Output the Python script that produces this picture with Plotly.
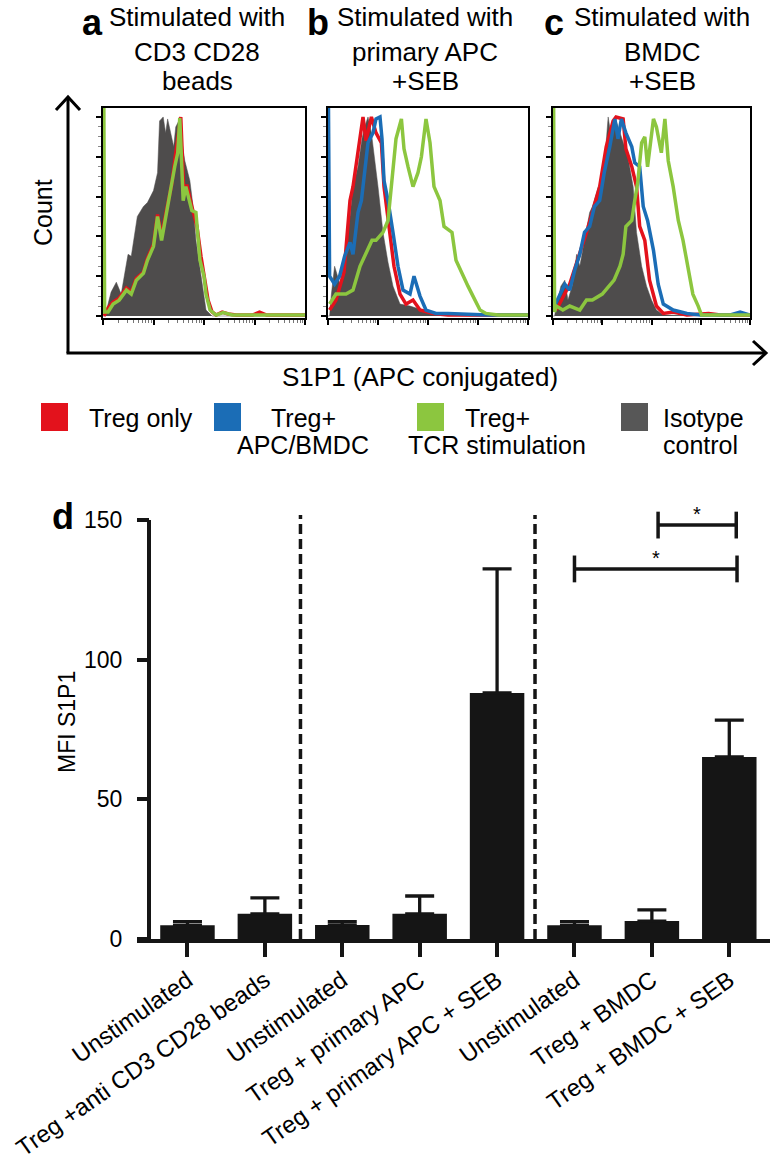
import math
import plotly.graph_objects as go

W, H = 774, 1162
FONT = "Liberation Sans, Arial, sans-serif"

RED = "#e3121c"
BLUE = "#1b6db6"
GREEN = "#8cc63f"
GREY = "#575757"
ISO_FILL = "#4e4c4c"

# ---- flow histograms: x = position on S1P1 axis (0-100), y = % of modal count
a_iso_x = [0, 1, 4, 6.6, 9, 12.4, 14, 17, 20, 22, 25, 27, 28, 29.8, 31, 32, 35, 36, 37.5, 39, 40.5, 43, 44.6, 46, 49, 51, 54, 100]
a_iso_y = [0, 0, 12, 17, 11, 31, 30, 50, 55, 57, 63, 72, 98, 100, 92, 99, 85, 95, 98, 88, 78, 68, 55, 38, 16, 3, 0, 0]
a_treg_x = [0.5, 2.5, 5, 8, 11.6, 14, 16.5, 20, 22, 25, 27, 29, 31.4, 34, 35.5, 37, 38.5, 40, 41.5, 44, 46.5, 48.5, 50.5, 52, 54, 56, 59, 62, 66, 74, 77.5, 81, 100]
a_treg_y = [0, 4, 7, 9, 14, 12, 19, 22, 29, 36, 51, 40, 53, 66, 78, 90, 100, 62, 66, 55, 45, 30, 18, 8, 2, 0.5, 2, 1, 0.5, 0.5, 2, 0.5, 0.5]
a_tcr_x = [0.4, 0.8, 2.5, 5, 8, 11.6, 14, 16.5, 20, 22, 25, 27, 29, 31.4, 34, 35.5, 37, 38, 39.7, 41, 44, 46, 48, 50, 51, 53, 56, 59.5, 64, 100]
a_tcr_y = [110, 2, 2, 6, 8, 13, 11, 18, 21.5, 28, 35, 50, 38, 52, 65, 75, 82, 99.5, 58, 65, 53, 52, 28, 20, 11, 3, 0.5, 1.7, 0.5, 0.5]

b_iso_x = [0, 0.8, 1.7, 3.3, 6, 8.3, 11, 12.5, 15, 17, 18.3, 20, 21.7, 23, 25, 27.5, 30, 32.5, 36, 41, 47.5, 52.5, 61, 70, 100]
b_iso_y = [0, 0, 11, 25, 16, 28, 50, 65, 75, 89, 95, 100, 92, 82, 65, 42, 27, 15, 6, 5, 3, 1.3, 0.5, 0, 0]
b_treg_x = [0.8, 4, 8, 11, 12.5, 15, 17.5, 19, 21.7, 24, 26.7, 28, 31, 33, 36, 39, 42.5, 46, 52.5, 60, 70, 100]
b_treg_y = [3, 8, 22, 58, 65, 83, 100, 88, 100, 92, 87, 65, 42, 25, 11, 6, 8, 3, 1.3, 0.5, 0.5, 0.5]
b_apc_x = [0.2, 0.8, 3.3, 5.8, 8.3, 11, 12.5, 15, 16.7, 18.3, 20, 22.5, 24, 26, 27, 28, 30, 32.5, 35, 37.5, 41, 43, 46, 49, 54, 60, 80, 100]
b_apc_y = [110, 20, 16, 20, 30, 37, 31, 52, 58, 72, 87, 92, 99, 100, 89, 68, 58, 42, 25, 13, 11, 20, 10, 3, 1.3, 1.3, 0.5, 0.5]
b_tcr_x = [0.8, 4, 9, 12.5, 16, 19, 22, 24, 27.5, 30, 31.7, 34, 36.7, 38, 40, 42.5, 45, 46.7, 49, 51, 53, 56, 58, 62, 64, 67.5, 70, 72.5, 76, 79, 85, 100]
b_tcr_y = [6, 11, 11, 13, 25, 32, 38, 38, 42, 48, 65, 89, 99, 84, 75, 65, 72, 80, 99, 87, 65, 58, 45, 42, 28, 20, 15, 10, 3, 1.3, 0.5, 0.5]

c_iso_x = [0, 0.8, 1.7, 4, 6, 7.6, 10, 12, 13.6, 16, 18.6, 20, 23, 24.6, 26, 28, 29.7, 31.4, 34, 35.6, 38, 40.7, 42.4, 45, 47.5, 50, 52.5, 56, 100]
c_iso_y = [0, 0, 5, 15, 18, 8, 16, 31, 25, 38, 52, 55, 65, 62, 75, 100, 89, 100, 92, 87, 80, 65, 42, 25, 15, 8, 3, 0.5, 0]
c_treg_x = [1.7, 8.5, 17, 23.7, 27, 30.5, 32, 35.6, 37, 40, 42.4, 44, 46.6, 49, 52.5, 56, 61, 68, 79, 85, 100]
c_treg_y = [3, 16, 42, 65, 85, 98, 100, 99, 84, 75, 65, 45, 38, 18, 5, 1.3, 2, 0.5, 1.3, 0.5, 0.5]
c_bmdc_x = [0.8, 3.4, 6, 8.5, 11, 13.6, 16, 18.6, 21, 23.7, 26, 28.8, 31.4, 33, 34.7, 37, 40, 41.5, 44, 45.8, 48, 51, 53.4, 56, 61, 68, 75, 90, 95, 100]
c_bmdc_y = [5, 11, 16, 13, 23, 31, 42, 45, 55, 58, 72, 85, 99, 89, 99, 92, 85, 77, 75, 55, 48, 33, 16, 6, 3, 1.3, 0.5, 0.5, 2, 0.5]
c_tcr_x = [0.3, 0.8, 1.7, 5, 8.5, 13.6, 17, 20, 25, 29, 31, 34, 35.6, 37, 40, 41.5, 43, 45, 46.6, 48, 51, 52.5, 55, 56.8, 58.5, 61, 63.6, 66, 68.6, 71, 73.7, 75.4, 100]
c_tcr_y = [110, 2, 5, 3, 5, 3, 8, 8, 11, 16, 18, 25, 31, 45, 48, 58, 67, 87, 90, 75, 99, 95, 82, 99, 78, 65, 48, 38, 25, 11, 5, 0.5, 0.5]

panel_titles = [["Stimulated with", "CD3 CD28", "beads"],
                ["Stimulated with", "primary APC", "+SEB"],
                ["Stimulated with", "BMDC", "+SEB"]]
panel_letters = ["a", "b", "c"]

legend_lines = [["Treg only"], ["Treg+", "APC/BMDC"], ["Treg+", "TCR stimulation"], ["Isotype", "control"]]
legend_colors = [RED, BLUE, GREEN, GREY]

# ---- bar chart (d)
bar_labels = ["Unstimulated", "Treg +anti CD3 CD28 beads", "Unstimulated", "Treg + primary APC",
              "Treg + primary APC + SEB", "Unstimulated", "Treg + BMDC", "Treg + BMDC + SEB"]
bar_mfi = [4.9, 9.0, 5.0, 9.0, 88.1, 4.9, 6.4, 65.2]
bar_sd = [1.3, 5.7, 1.2, 6.4, 44.4, 1.3, 4.0, 13.2]
sig_brackets = [(6.08, 7.09, 148.2), (5.0, 7.1, 132.5)]
sig_marks = ["*", "*"]
group_dividers = [1.46, 4.49]


def px(x):
    return x / W


def py(y):
    return 1 - y / H


fig = go.Figure()

hist_sets = [
    [(a_iso_x, a_iso_y, None), (a_treg_x, a_treg_y, RED), (a_tcr_x, a_tcr_y, GREEN)],
    [(b_iso_x, b_iso_y, None), (b_treg_x, b_treg_y, RED), (b_apc_x, b_apc_y, BLUE), (b_tcr_x, b_tcr_y, GREEN)],
    [(c_iso_x, c_iso_y, None), (c_treg_x, c_treg_y, RED), (c_bmdc_x, c_bmdc_y, BLUE), (c_tcr_x, c_tcr_y, GREEN)],
]
hist_boxes = [(103, 305), (328, 528), (553, 750)]

for i, curves in enumerate(hist_sets):
    sfx = "" if i == 0 else str(i + 1)
    for xs, ys, col in curves:
        if col is None:
            fig.add_trace(go.Scatter(x=xs, y=ys, mode="lines", fill="tozeroy", fillcolor=ISO_FILL,
                                     line=dict(color=ISO_FILL, width=0.5),
                                     xaxis="x" + sfx, yaxis="y" + sfx, showlegend=False))
        else:
            fig.add_trace(go.Scatter(x=xs, y=ys, mode="lines", line=dict(color=col, width=3.5),
                                     xaxis="x" + sfx, yaxis="y" + sfx, showlegend=False))

minor_log = [25 * (d + math.log10(k)) for d in range(4) for k in range(2, 10)]

axes = {}
for i, (x0, x1) in enumerate(hist_boxes):
    sfx = "" if i == 0 else str(i + 1)
    axes["xaxis" + sfx] = dict(domain=[px(x0), px(x1)], range=[0, 100], anchor="y" + sfx,
                               showline=True, mirror=True, linecolor="black", linewidth=2,
                               ticks="outside", ticklen=5, tickwidth=2, tickcolor="black",
                               tickvals=[0, 25, 50, 75, 100], showticklabels=False,
                               showgrid=False, zeroline=False,
                               minor=dict(tickvals=minor_log, ticks="outside", ticklen=3,
                                          tickwidth=1, tickcolor="#777"))
    axes["yaxis" + sfx] = dict(domain=[py(318), py(108)], range=[-1, 104.5], anchor="x" + sfx,
                               showline=True, mirror=True, linecolor="black", linewidth=2,
                               ticks="outside", ticklen=5, tickwidth=2, tickcolor="black",
                               dtick=20, tick0=0, showticklabels=False,
                               showgrid=False, zeroline=False,
                               minor=dict(dtick=5, ticks="outside", ticklen=3,
                                          tickwidth=1, tickcolor="#888"))

# bar chart
fig.add_trace(go.Bar(x=list(range(len(bar_mfi))), y=bar_mfi, width=0.704,
                     marker=dict(color="#151515", line=dict(width=0)),
                     error_y=dict(type="data", symmetric=False, array=bar_sd,
                                  arrayminus=[0] * len(bar_sd), color="#151515",
                                  thickness=3.3, width=14.5),
                     xaxis="x4", yaxis="y4", showlegend=False))

for (x0, x1, yv) in sig_brackets:
    fig.add_trace(go.Scatter(x=[x0, x0, None, x0, x1, None, x1, x1],
                             y=[yv - 4.8, yv + 4.8, None, yv, yv, None, yv - 4.8, yv + 4.8],
                             mode="lines", line=dict(color="#151515", width=3.5),
                             xaxis="x4", yaxis="y4", showlegend=False))

axes["xaxis4"] = dict(domain=[px(137), px(770)], range=[-0.652, 7.526], anchor="y4",
                      tickvals=list(range(len(bar_labels))), ticktext=bar_labels, tickangle=-35,
                      tickfont=dict(size=24, color="black", family=FONT),
                      showline=True, linecolor="#151515", linewidth=4,
                      ticks="outside", ticklen=14, tickwidth=4, tickcolor="#151515",
                      showgrid=False, zeroline=False, automargin=False)
axes["yaxis4"] = dict(domain=[py(939), py(497.7)], range=[0, 158], anchor="free", position=px(149),
                      tickvals=[0, 50, 100, 150], tickfont=dict(size=23, color="black", family=FONT),
                      ticklabelstandoff=10,
                      showline=False, ticks="outside", ticklen=12, tickwidth=4, tickcolor="#151515",
                      showgrid=False, zeroline=False, automargin=False)

shapes = []
# y axis line of the bar chart (stops at 150)
shapes.append(dict(type="line", xref="paper", yref="y4", x0=px(149), x1=px(149), y0=0, y1=150,
                   line=dict(color="#151515", width=4)))
for xd in group_dividers:
    shapes.append(dict(type="line", xref="x4", yref="y4", x0=xd, x1=xd, y0=0, y1=151.8,
                       line=dict(color="#151515", width=3.5, dash="10px,5px")))

# big arrows around the histograms
shapes.append(dict(type="line", xref="paper", yref="paper", x0=px(68), x1=px(68), y0=py(353), y1=py(98),
                   line=dict(color="black", width=3)))
shapes.append(dict(type="path", xref="paper", yref="paper",
                   path=f"M {px(56)},{py(110)} L {px(68)},{py(97)} L {px(80)},{py(110)}",
                   line=dict(color="black", width=3)))
shapes.append(dict(type="line", xref="paper", yref="paper", x0=px(66.5), x1=px(765), y0=py(353), y1=py(353),
                   line=dict(color="black", width=3)))
shapes.append(dict(type="path", xref="paper", yref="paper",
                   path=f"M {px(753)},{py(341)} L {px(766)},{py(353)} L {px(753)},{py(365)}",
                   line=dict(color="black", width=3)))

# legend swatches
swatch_x = [41, 214, 417, 621]
for sx, col in zip(swatch_x, legend_colors):
    shapes.append(dict(type="rect", xref="paper", yref="paper", x0=px(sx), x1=px(sx + 27),
                       y0=py(431), y1=py(403), fillcolor=col, line=dict(width=0)))

ann = []


def text(x, y, s, size=24, xanchor="center", bold=False, angle=0, yanchor="middle"):
    ann.append(dict(x=px(x), y=py(y), xref="paper", yref="paper", text=f"<b>{s}</b>" if bold else s,
                    showarrow=False, xanchor=xanchor, yanchor=yanchor, textangle=angle,
                    font=dict(size=size, color="black", family=FONT)))


title_cx = [197, 425, 662]
letter_cx = [92, 318, 554]
for lines, cx, lx, letter in zip(panel_titles, title_cx, letter_cx, panel_letters):
    text(cx, 0, lines[0], size=26, yanchor="top")
    for j, ln in enumerate(lines[1:]):
        text(cx, 52 + 29 * j, ln, size=26)
    text(lx, 0, letter, size=36, bold=True, yanchor="top")

text(43, 213, "Count", size=25, angle=-90)
text(420, 377, "S1P1 (APC conjugated)", size=26)

legend_text_x = [(87, "left"), (303, "center"), (497, "center"), (661, "left")]
for lines, (tx, anc) in zip(legend_lines, legend_text_x):
    for j, ln in enumerate(lines):
        text(tx, 418 + 27 * j, ln, size=25, xanchor=anc)

text(63, 516, "d", size=36, bold=True)
text(67, 722, "MFI S1P1", size=23, angle=-90)

for (x0, x1, yv), mark in zip(sig_brackets, sig_marks):
    ann.append(dict(x=(x0 + x1) / 2, y=yv, xref="x4", yref="y4", text=mark, showarrow=False,
                    xanchor="center", yanchor="bottom", yshift=-2,
                    font=dict(size=20, color="black", family=FONT)))

fig.update_layout(width=W, height=H, margin=dict(l=0, r=0, t=0, b=0),
                  paper_bgcolor="white", plot_bgcolor="white",
                  font=dict(family=FONT, color="black"),
                  shapes=shapes, annotations=ann, showlegend=False, hovermode=False, **axes)

# drop the browser's default body margin so the figure sits at the page corner
fig.write_html("out.html", config={"displayModeBar": False},
               post_script="document.body.style.margin = '0';")
